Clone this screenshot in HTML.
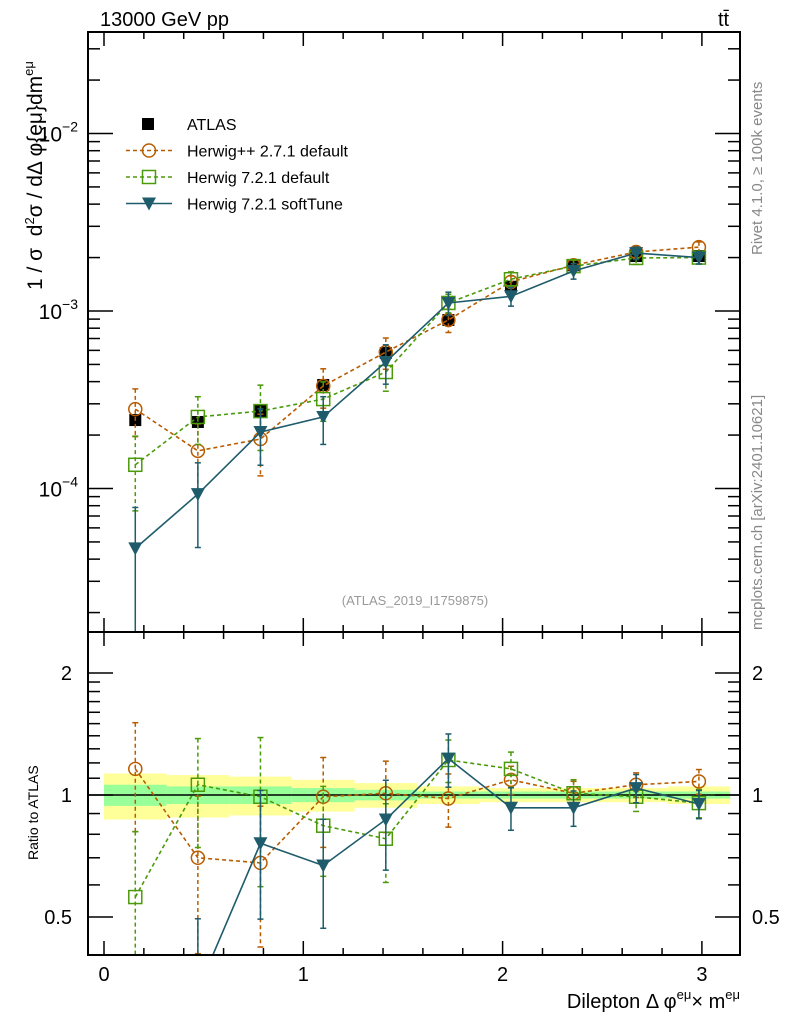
<!DOCTYPE html>
<html><head><meta charset="utf-8"><style>
html,body{margin:0;background:#fff;overflow:hidden;width:786px;height:1024px}
svg{font-family:"Liberation Sans",sans-serif;display:block}
</style></head><body>
<svg id="c" width="786" height="1024" viewBox="0 0 786 1024" xmlns="http://www.w3.org/2000/svg">
<text x="100" y="26" font-size="20">13000 GeV pp</text>
<text x="718" y="26" font-size="20">tt̄</text>
<text transform="translate(762,255) rotate(-90)" font-size="15" fill="#888">Rivet 4.1.0, ≥ 100k events</text>
<text transform="translate(762,630) rotate(-90)" font-size="15" fill="#888">mcplots.cern.ch [arXiv:2401.10621]</text>
<text x="415" y="605" font-size="13" fill="#999" text-anchor="middle">(ATLAS_2019_I1759875)</text>
<text transform="translate(42,290) rotate(-90)" font-size="21" style="white-space:pre">1 / σ  d<tspan font-size="13" dy="-8">2</tspan><tspan dy="8">σ / dΔ φ{eμ}dm</tspan><tspan font-size="13" dy="-9">eμ</tspan></text>
<text transform="translate(38,860) rotate(-90)" font-size="14">Ratio to ATLAS</text>
<text x="740" y="1008" font-size="20" text-anchor="end">Dilepton Δ φ<tspan font-size="13" dy="-9">eμ</tspan><tspan dy="9">× m</tspan><tspan font-size="13" dy="-9">eμ</tspan></text>
<g id="g"></g>
</svg>
<script>
const binCenters=[0.157,0.471,0.785,1.100,1.414,1.728,2.042,2.356,2.670,2.985];
const atlas=[2.43e-4,2.37e-4,2.73e-4,3.83e-4,5.8e-4,8.9e-4,1.37e-3,1.81e-3,2.04e-3,2.04e-3];
const hwpp=[2.8e-4,1.63e-4,1.9e-4,3.78e-4,5.87e-4,8.9e-4,1.46e-3,1.81e-3,2.15e-3,2.29e-3];
const hw7=[1.36e-4,2.53e-4,2.73e-4,3.19e-4,4.53e-4,1.11e-3,1.51e-3,1.79e-3,1.99e-3,2.0e-3];
const hwsoft=[4.6e-5,9.3e-5,2.08e-4,2.53e-4,5.16e-4,1.11e-3,1.21e-3,1.68e-3,2.12e-3,2.0e-3];
const hwppRatio=[1.16,0.70,0.68,0.99,1.01,0.98,1.09,1.01,1.06,1.08];
const hw7Ratio=[0.56,1.06,0.99,0.84,0.78,1.22,1.16,1.01,0.99,0.955];
const hwsoftRatio=[0.19,0.33,0.76,0.67,0.87,1.23,0.93,0.93,1.04,0.95];
const hwppErr=[0.3,0.42,0.38,0.25,0.2,0.15,0.08,0.07,0.07,0.07];
const hw7Err=[0.45,0.3,0.4,0.25,0.22,0.12,0.1,0.08,0.08,0.08];
const hwsoftErr=[0.7,0.5,0.35,0.3,0.25,0.15,0.12,0.1,0.08,0.08];
const bandOuter=[0.13,0.12,0.11,0.09,0.07,0.05,0.04,0.04,0.04,0.05];
const bandInner=[0.06,0.05,0.05,0.04,0.03,0.02,0.02,0.02,0.02,0.02];
const mainTicks=[1e-4,1e-3,1e-2];
const ratioTicks=[0.5,1,2];
const xTicks=[0,1,2,3];

const NS="http://www.w3.org/2000/svg",G=document.getElementById('g');
const L=88,R=740,MT=32,MB=632,RT=632,RB=955;
const xs=v=>104+v*199.3;
const ym=v=>311-(Math.log10(v)+3)*177.5;
const yr=v=>795-Math.log2(v)*122;
const binW=Math.PI/10;
function mk(t,a,p){const e=document.createElementNS(NS,t);for(const k in a)e.setAttribute(k,a[k]);(p||G).appendChild(e);return e;}
const defs=mk('defs',{});
const c1=mk('clipPath',{id:'cm'},defs);mk('rect',{x:L,y:MT,width:R-L,height:MB-MT},c1);
const c2=mk('clipPath',{id:'cr'},defs);mk('rect',{x:L,y:RT,width:R-L,height:RB-RT},c2);
const gm=mk('g',{'clip-path':'url(#cm)'});


const gr=mk('g',{'clip-path':'url(#cr)'});


binCenters.forEach((c,i)=>{
 const x0=xs(c-binW/2),w=xs(c+binW/2)-x0;
 let r=mk('rect',{x:x0,y:yr(1+bandOuter[i]),width:w,height:yr(1-bandOuter[i])-yr(1+bandOuter[i]),fill:'#ffff99'},gr);
 
 
 r=mk('rect',{x:x0,y:yr(1+bandInner[i]),width:w,height:yr(1-bandInner[i])-yr(1+bandInner[i]),fill:'#99ff99'},gr);
 
 
});
let ln=mk('line',{x1:L,x2:R,y1:yr(1),y2:yr(1),stroke:'#000','stroke-width':1.5},gr);


atlas.forEach((v,i)=>{const x=xs(binCenters[i]),y=ym(v);
 const r=mk('rect',{x:x-6,y:y-6,width:12,height:12,fill:'#000'},gm);
 
 
 mk('line',{x1:x,x2:x,y1:ym(v*1.06),y2:ym(v*0.94),stroke:'#000','stroke-width':1.5},gm);
});
function marker(p,type,x,y,col){
 if(type==='circle')return mk('circle',{cx:x,cy:y,r:6.5,fill:'none',stroke:col,'stroke-width':1.5},p);
 if(type==='square')return mk('rect',{x:x-6.5,y:y-6.5,width:13,height:13,fill:'none',stroke:col,'stroke-width':1.5},p);
 return mk('path',{d:`M${x-7},${y-6}L${x+7},${y-6}L${x},${y+7}Z`,fill:col},p);
}
function series(p,vals,errs,yf,col,dash,type,name){
 const pts=vals.map((v,i)=>[xs(binCenters[i]),yf(v)]);
 const pl=mk('polyline',{points:pts.map(q=>q.join(',')).join(' '),fill:'none',stroke:col,'stroke-width':1.6,'stroke-dasharray':dash},p);
 
 
 vals.forEach((v,i)=>{const [x,y]=pts[i];
  const e=errs[i];
  const hi=yf(v*(1+e)),lo=yf(Math.max(v*(1-e),1e-9));
  mk('line',{x1:x,x2:x,y1:hi,y2:lo,stroke:col,'stroke-width':1.5,'stroke-dasharray':dash},p);
  mk('line',{x1:x-3,x2:x+3,y1:hi,y2:hi,stroke:col,'stroke-width':1.5},p);
  mk('line',{x1:x-3,x2:x+3,y1:lo,y2:lo,stroke:col,'stroke-width':1.5},p);
  const m=marker(p,type,x,y,col);
  
  
 });
}
const C1='#b85c00',C2='#4a9a0a',C3='#1e5b6b';
series(gm,hwpp,hwppErr,ym,C1,'4,3','circle','herwigpp');
series(gm,hw7,hw7Err,ym,C2,'4,3','square','herwig7');
series(gm,hwsoft,hwsoftErr,ym,C3,'','tri','herwig7-softtune');
series(gr,hwppRatio,hwppErr,yr,C1,'4,3','circle','herwigpp-ratio');
series(gr,hw7Ratio,hw7Err,yr,C2,'4,3','square','herwig7-ratio');
series(gr,hwsoftRatio,hwsoftErr,yr,C3,'','tri','herwig7-softtune-ratio');
let f=mk('rect',{x:L,y:MT,width:R-L,height:MB-MT,fill:'none',stroke:'#000','stroke-width':2});

f=mk('rect',{x:L,y:RT,width:R-L,height:RB-RT,fill:'none',stroke:'#000','stroke-width':2});

function tk(x1,y1,x2,y2){mk('line',{x1,y1,x2,y2,stroke:'#000','stroke-width':1.5});}
for(let d=-5;d<=-1;d++)for(let m=1;m<=9;m++){const v=m*Math.pow(10,d);const y=ym(v);if(y<MT||y>MB)continue;const l=m===1?25:12;tk(L,y,L+l,y);tk(R,y,R-l,y);}
mainTicks.forEach(v=>{const e=Math.round(Math.log10(v));const t=mk('text',{x:L-10,y:ym(v)+8,'font-size':21,'text-anchor':'end'});t.textContent='10';
 const s=mk('tspan',{'font-size':14,dy:-10},t);s.textContent=String(e).replace('-','−');
 });
[0.4,0.5,0.6,0.7,0.8,0.9,1,1.1,1.2,1.3,1.4,1.5,1.6,1.7,1.8,1.9,2].forEach(v=>{const y=yr(v);if(y<RT||y>RB)return;const l=ratioTicks.includes(v)?25:12;tk(L,y,L+l,y);tk(R,y,R-l,y);});
ratioTicks.forEach(v=>{[[L-16,'end'],[R+12,'start']].forEach(([x,a])=>{const t=mk('text',{x,y:yr(v)+7,'font-size':20,'text-anchor':a});t.textContent=String(v);
 });});
for(let v=0;v<=3.2;v+=0.2){const x=xs(v);if(x>R)break;const maj=Math.abs(v-Math.round(v))<1e-6;const l=maj?14:7;
 tk(x,MB,x,MB-l);tk(x,MT,x,MT+l);tk(x,RB,x,RB-l);tk(x,RT,x,RT+l);}
xTicks.forEach(v=>{const t=mk('text',{x:xs(v),y:981,'font-size':20,'text-anchor':'middle'});t.textContent=String(v);
 });
const leg=[['ATLAS','#000','','atlas'],['Herwig++ 2.7.1 default',C1,'4,3','circle'],['Herwig 7.2.1 default',C2,'4,3','square'],['Herwig 7.2.1 softTune',C3,'','tri']];
leg.forEach((e,i)=>{const y=124+i*26.5;const g=mk('g',{});
 
 if(e[3]==='atlas')mk('rect',{x:142,y:y-6,width:12,height:12,fill:'#000'},g);
 else{mk('line',{x1:126,x2:172,y1:y,y2:y,stroke:e[1],'stroke-width':1.6,'stroke-dasharray':e[2]},g);marker(g,e[3],149,y,e[1]);}
 const t=mk('text',{x:187,y:y+6,'font-size':16},g);t.textContent=e[0];});
</script>
</body></html>
